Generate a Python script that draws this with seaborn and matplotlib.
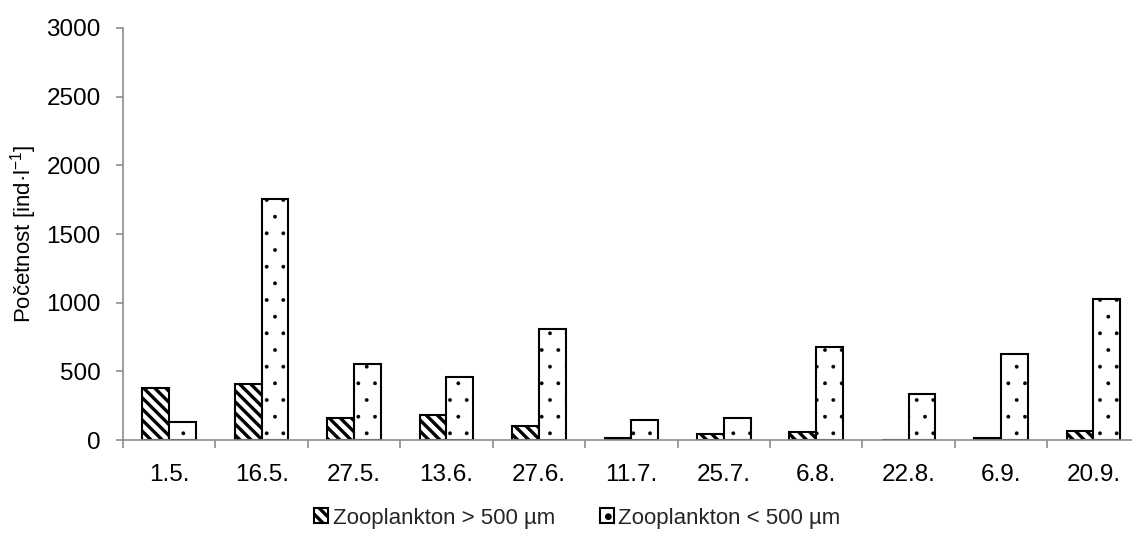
import matplotlib
matplotlib.use("Agg")
import matplotlib.pyplot as plt
import seaborn as sns
import pandas as pd
from matplotlib.ticker import FixedLocator

dates = ["1.5.", "16.5.", "27.5.", "13.6.", "27.6.", "11.7.", "25.7.", "6.8.", "22.8.", "6.9.", "20.9."]
big = [376, 405, 162, 184, 103, 18, 42, 56, 3, 14, 66]
small = [133, 1752, 553, 457, 811, 146, 164, 678, 332, 626, 1024]
series = ["Zooplankton > 500 µm", "Zooplankton < 500 µm"]

df = pd.DataFrame({
    "date": dates * 2,
    "value": big + small,
    "series": [series[0]] * len(dates) + [series[1]] * len(dates),
})

sns.set_theme(style="white")
plt.rcParams["font.family"] = ["Liberation Sans", "DejaVu Sans"]
plt.rcParams["mathtext.fontset"] = "custom"
plt.rcParams["mathtext.rm"] = "Liberation Sans"
plt.rcParams["hatch.linewidth"] = 2.4

fig = plt.figure(figsize=(11.32, 5.38), dpi=100)
ax = fig.add_axes([0.1087, 0.182, 0.898, 0.766])

sns.barplot(data=df, x="date", y="value", hue="series", order=dates,
            hue_order=series, palette=["white", "white"], width=0.58, gap=0,
            edgecolor="black", linewidth=1.5, ax=ax, legend=True)

hatches = ["\\\\\\", "."]
hlw = [2.4, 0.3]
for cont, h, lw in zip(ax.containers, hatches, hlw):
    for p in cont:
        p.set_hatch(h)
        p.set_edgecolor("black")
        try:
            p.set_hatch_linewidth(lw)
        except AttributeError:
            pass

ax.set_ylim(0, 3000)
ax.set_xlim(-0.5, len(dates) - 0.5)
ax.set_yticks(range(0, 3001, 500))
ax.xaxis.set_minor_locator(FixedLocator([i + 0.5 for i in range(-1, len(dates))]))

for s in ["top", "right"]:
    ax.spines[s].set_visible(False)
for s in ["left", "bottom"]:
    ax.spines[s].set_color("#8c8c8c")
    ax.spines[s].set_linewidth(1.2)

ax.tick_params(axis="y", which="major", direction="out", length=5, width=1.2,
               color="#8c8c8c", labelsize=17.5, pad=11, left=True)
ax.tick_params(axis="x", which="major", length=0, labelsize=17.5, pad=17)
ax.tick_params(axis="x", which="minor", direction="out", length=6, width=1.2,
               color="#8c8c8c", bottom=True)
for lbl in ax.get_xticklabels() + ax.get_yticklabels():
    lbl.set_color("black")

ax.set_xlabel("")
ax.set_ylabel(r"Početnost [ind·l$^{\mathregular{-1}}$]", fontsize=16, color="black")
ax.yaxis.set_label_coords(-0.083, 0.5)

leg = ax.get_legend()
handles = leg.legend_handles
for hd, h, lw in zip(handles, hatches, hlw):
    hd.set_hatch(h)
    hd.set_edgecolor("black")
    hd.set_facecolor("white")
    try:
        hd.set_hatch_linewidth(lw)
    except AttributeError:
        pass
leg.remove()
fig.legend(handles, series, loc="center", bbox_to_anchor=(0.51, 0.037), ncol=2,
           frameon=False, fontsize=16, handlelength=0.65, handleheight=0.65,
           handletextpad=0.2, columnspacing=2.0, borderpad=0.2)

fig.savefig("out.png", dpi=100)
